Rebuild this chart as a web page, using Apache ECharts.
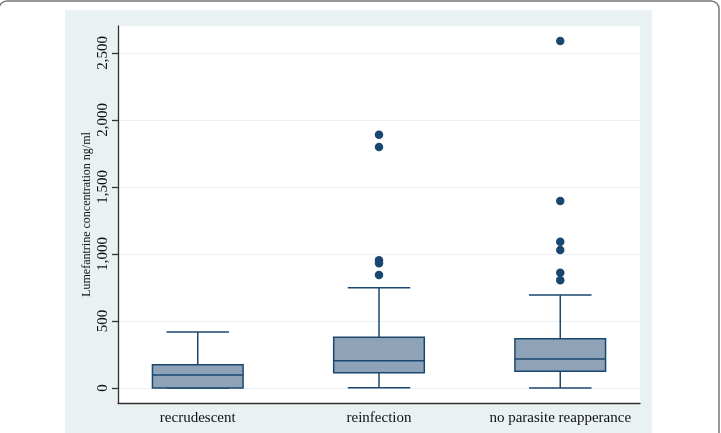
<!DOCTYPE html>
<html>
<head>
<meta charset="utf-8">
<script src="https://cdn.jsdelivr.net/npm/echarts@6/dist/echarts.min.js"></script>
<style>
  html, body { margin: 0; padding: 0; background: #fff; }
  #chart { width: 721px; height: 433px; }
</style>
</head>
<body>
<div id="chart"></div>
<script>
// categories along the x axis (typo kept as in the figure)
var categories = ["recrudescent", "reinfection", "no parasite reapperance"];

// box plot summaries, one entry per category (ng/ml)
var lowerWhisker = [0, 2, 0];
var q1 = [0, 114, 125];
var median = [97, 204, 216];
var q3 = [174, 378, 368];
var upperWhisker = [418, 748, 694];

// outside values
var reinfectionOutliers = [1889, 1797, 952, 930, 843];
var noParasiteOutliers = [2588, 1394, 1091, 1029, 860, 803];

var yTicks = [0, 500, 1000, 1500, 2000, 2500];

var navy = "#1a476f";
var boxFill = "#8fa3b8";
var serif = "Liberation Serif, Times New Roman, serif";

var boxData = categories.map(function (c, i) {
  return [i + 1, lowerWhisker[i], q1[i], median[i], q3[i], upperWhisker[i]];
});

var outlierData = [];
reinfectionOutliers.forEach(function (v) { outlierData.push([2, v]); });
noParasiteOutliers.forEach(function (v) { outlierData.push([3, v]); });

var chart = echarts.init(document.getElementById("chart"));

function renderBox(params, api) {
  var x = api.value(0);
  var pMin = api.coord([x, api.value(1)]);
  var pQ1 = api.coord([x, api.value(2)]);
  var pMed = api.coord([x, api.value(3)]);
  var pQ3 = api.coord([x, api.value(4)]);
  var pMax = api.coord([x, api.value(5)]);
  var halfBox = api.size([0.5, 0])[0] / 2;
  var halfCap = api.size([0.345, 0])[0] / 2;
  var line = { stroke: navy, lineWidth: 1.5 };
  return {
    type: "group",
    children: [
      { type: "line", shape: { x1: pMax[0], y1: pMax[1], x2: pMax[0], y2: pQ3[1] }, style: line },
      { type: "line", shape: { x1: pMin[0], y1: pQ1[1], x2: pMin[0], y2: pMin[1] }, style: line },
      { type: "line", shape: { x1: pMax[0] - halfCap, y1: pMax[1], x2: pMax[0] + halfCap, y2: pMax[1] }, style: line },
      { type: "line", shape: { x1: pMin[0] - halfCap, y1: pMin[1], x2: pMin[0] + halfCap, y2: pMin[1] }, style: line },
      {
        type: "rect",
        shape: { x: pQ3[0] - halfBox, y: pQ3[1], width: halfBox * 2, height: pQ1[1] - pQ3[1] },
        style: { fill: boxFill, stroke: navy, lineWidth: 1.5 }
      },
      { type: "line", shape: { x1: pMed[0] - halfBox, y1: pMed[1], x2: pMed[0] + halfBox, y2: pMed[1] }, style: line }
    ]
  };
}

var option = {
  animation: false,
  backgroundColor: "#fff",
  graphic: [
    {
      type: "rect",
      z: -20,
      shape: { x: 65, y: 10, width: 587, height: 440 },
      style: { fill: "#eaf1f2" }
    },
    {
      type: "rect",
      z: -19,
      shape: { x: -1, y: 1, width: 720, height: 470, r: 8 },
      style: { fill: "none", stroke: "#777", lineWidth: 1.5 }
    }
  ],
  grid: {
    left: 118,
    top: 26,
    right: 81,
    bottom: 30,
    show: true,
    backgroundColor: "#fff",
    borderWidth: 0
  },
  xAxis: {
    type: "value",
    min: 0.56,
    max: 3.44,
    axisLine: { onZero: false, lineStyle: { color: "#333", width: 1.3 } },
    axisTick: { show: false },
    splitLine: { show: false },
    axisLabel: {
      customValues: [1, 2, 3],
      formatter: function (v) { return categories[Math.round(v) - 1]; },
      margin: 8,
      fontFamily: serif,
      fontSize: 15,
      color: "#111"
    }
  },
  yAxis: {
    type: "value",
    min: -112,
    max: 2700,
    name: "Lumefantrine concentration ng/ml",
    nameLocation: "middle",
    nameGap: 25,
    nameMoveOverlap: false,
    nameTextStyle: { fontFamily: serif, fontSize: 12, color: "#111" },
    axisLine: { show: true, onZero: false, lineStyle: { color: "#333", width: 1.3 } },
    axisTick: { show: true, customValues: yTicks, length: 6, lineStyle: { color: "#333", width: 1.3 } },
    splitLine: { show: true, lineStyle: { color: "#eaf1f2", width: 1.2 } },
    axisLabel: {
      customValues: yTicks,
      rotate: 90,
      margin: 7,
      formatter: function (v) { return v.toLocaleString("en-US"); },
      fontFamily: serif,
      fontSize: 15,
      color: "#111"
    }
  },
  series: [
    {
      type: "custom",
      renderItem: renderBox,
      encode: { x: 0, y: [1, 2, 3, 4, 5] },
      data: boxData,
      z: 3
    },
    {
      type: "scatter",
      data: outlierData,
      symbol: "circle",
      symbolSize: 8.5,
      itemStyle: { color: navy, opacity: 1 },
      z: 4
    }
  ]
};

chart.setOption(option);
</script>
</body>
</html>
